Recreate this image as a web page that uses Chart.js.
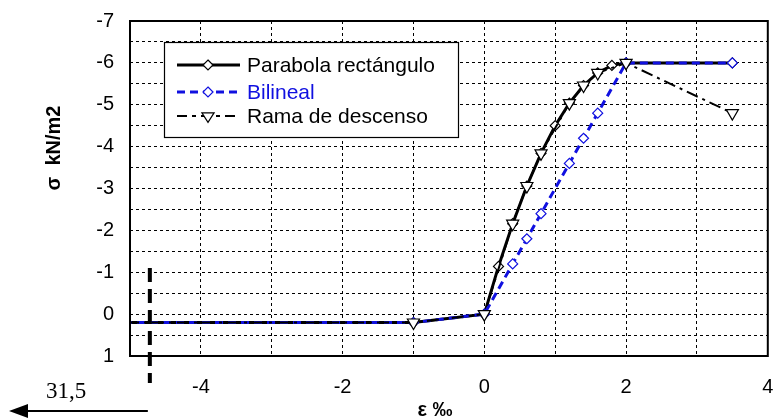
<!DOCTYPE html>
<html>
<head>
<meta charset="utf-8">
<script src="https://cdn.jsdelivr.net/npm/chart.js"></script>
<style>
  html, body { margin: 0; padding: 0; background: #fff; }
  #wrap { width: 776px; height: 420px; position: relative; }
</style>
</head>
<body>
<div id="wrap"><canvas id="chart"></canvas></div>
<script>
// Strain (‰) and stress values
const parabolaX = [-31.5, -1, 0, 0.2, 0.4, 0.6, 0.8, 1.0, 1.2, 1.4, 1.6, 1.8, 2.0, 3.5];
const parabolaY = [0.2, 0.2, 0, -1.14, -2.16, -3.06, -3.84, -4.5, -5.04, -5.46, -5.76, -5.94, -6, -6];

const bilinealX = [-31.5, -1, 0, 0.4, 0.6, 0.8, 1.2, 1.4, 1.6, 2.0, 3.5];
const bilinealY = [0.2, 0.2, 0, -1.2, -1.8, -2.4, -3.6, -4.2, -4.8, -6, -6];

const ramaX = [-31.5, -1, 0, 0.4, 0.6, 0.8, 1.2, 1.4, 1.6, 2.0, 3.5];
const ramaY = [0.2, 0.2, 0, -2.16, -3.06, -3.84, -5.04, -5.46, -5.76, -6, -4.8];

const seriesNames = ['Parabola rectángulo', 'Bilineal', 'Rama de descenso'];

// Axis ranges and labelled ticks
const xMin = -5, xMax = 4, xStep = 1;
const yMin = -7, yMax = 1, yStep = 0.5;
const xLabelled = [-4, -2, 0, 2, 4];

// annotation: break marker and off-chart value
const breakX = -4.72;
const breakTopY = -1.1;
const offChartLabel = '31,5';

const BLUE = '#1010e0';
const toPoints = (xs, ys) => xs.map((x, i) => ({ x: x, y: ys[i] }));

Chart.defaults.font.family = '"Liberation Sans", Arial, sans-serif';
Chart.defaults.color = '#000';

// legend box, frame and annotations drawn on top of the plot
const extrasPlugin = {
    id: 'extras',
    afterDatasetsDraw(chart) {
        const ctx = chart.ctx;
        const area = chart.chartArea;
        const xs = chart.scales.x;
        const ys = chart.scales.y;

        // plot frame
        ctx.save();
        ctx.strokeStyle = '#000';
        ctx.lineWidth = 2;
        ctx.strokeRect(area.left, area.top, area.right - area.left, area.bottom - area.top);
        ctx.restore();

        // legend
        ctx.save();
        const lx = 164, ly = 42, lw = 294, lh = 95;
        ctx.fillStyle = '#fff';
        ctx.fillRect(lx, ly, lw, lh);
        ctx.strokeStyle = '#000';
        ctx.lineWidth = 1.2;
        ctx.strokeRect(lx + 0.5, ly + 0.5, lw, lh);
        const rows = [65, 92, 116];
        const textColors = ['#000', BLUE, '#000'];
        chart.data.datasets.forEach((ds, i) => {
            const y = rows[i];
            ctx.save();
            ctx.strokeStyle = ds.borderColor;
            ctx.lineWidth = ds.borderWidth;
            ctx.setLineDash(ds.legendDash || ds.borderDash || []);
            ctx.beginPath();
            ctx.moveTo(lx + 13, y);
            ctx.lineTo(lx + 76, y);
            ctx.stroke();
            ctx.restore();
            drawMarker(ctx, ds, lx + 44, y);
            ctx.fillStyle = textColors[i];
            ctx.font = '21px "Liberation Sans", Arial, sans-serif';
            ctx.textBaseline = 'middle';
            ctx.textAlign = 'left';
            ctx.fillText(ds.label, lx + 83, y + 1);
        });
        ctx.restore();

        // axis titles
        ctx.save();
        ctx.fillStyle = '#000';
        ctx.font = 'bold 20px "Liberation Sans", Arial, sans-serif';
        ctx.textAlign = 'center';
        ctx.textBaseline = 'middle';
        ctx.fillText('ε ‰', 435, 410);
        ctx.translate(54, 148);
        ctx.rotate(-Math.PI / 2);
        ctx.fillText('σ  kN/m2', 0, 0);
        ctx.restore();

        // break marker: thick dashed vertical line
        const bx = xs.getPixelForValue(breakX);
        ctx.save();
        ctx.strokeStyle = '#000';
        ctx.lineWidth = 4;
        ctx.setLineDash([14, 7]);
        ctx.beginPath();
        ctx.moveTo(bx, ys.getPixelForValue(breakTopY));
        ctx.lineTo(bx, area.bottom + 27);
        ctx.stroke();
        ctx.restore();

        // arrow pointing to the off-chart value
        const ay = area.bottom + 55;
        ctx.save();
        ctx.strokeStyle = '#000';
        ctx.fillStyle = '#000';
        ctx.lineWidth = 2;
        ctx.beginPath();
        ctx.moveTo(bx - 2, ay);
        ctx.lineTo(24, ay);
        ctx.stroke();
        ctx.beginPath();
        ctx.moveTo(9, ay);
        ctx.lineTo(28, ay - 7);
        ctx.lineTo(28, ay + 7);
        ctx.closePath();
        ctx.fill();
        ctx.font = '23px "Liberation Serif", "Times New Roman", serif';
        ctx.textAlign = 'left';
        ctx.textBaseline = 'alphabetic';
        ctx.fillText(offChartLabel, 46, ay - 13);
        ctx.restore();
    }
};

function drawMarker(ctx, ds, x, y) {
    const r = ds.pointRadius;
    ctx.save();
    ctx.fillStyle = ds.pointBackgroundColor;
    ctx.strokeStyle = ds.pointBorderColor;
    ctx.lineWidth = ds.pointBorderWidth;
    ctx.beginPath();
    if (ds.pointStyle === 'rectRot') {
        ctx.moveTo(x, y - r);
        ctx.lineTo(x + r, y);
        ctx.lineTo(x, y + r);
        ctx.lineTo(x - r, y);
    } else {
        const h = r * 0.75;
        ctx.moveTo(x - r * 0.87, y - h * 0.6);
        ctx.lineTo(x + r * 0.87, y - h * 0.6);
        ctx.lineTo(x, y + h * 1.2);
    }
    ctx.closePath();
    ctx.fill();
    ctx.stroke();
    ctx.restore();
}

// keep the plot box exactly where the layout padding puts it
function fixX(scale) {
    scale.height = 64;
    scale.paddingLeft = 0;
    scale.paddingRight = 0;
}
function fixY(scale) {
    scale.width = 130;
    scale.paddingTop = 0;
    scale.paddingBottom = 0;
}

new Chart(document.getElementById('chart'), {
    type: 'scatter',
    data: {
        datasets: [
            {
                label: seriesNames[0],
                data: toPoints(parabolaX, parabolaY),
                showLine: true,
                borderColor: '#000',
                borderWidth: 3,
                pointStyle: 'rectRot',
                pointRadius: 5,
                pointBackgroundColor: '#fff',
                pointBorderColor: '#000',
                pointBorderWidth: 1.2,
                order: 2
            },
            {
                label: seriesNames[1],
                data: toPoints(bilinealX, bilinealY),
                showLine: true,
                borderColor: BLUE,
                borderWidth: 3,
                borderDash: [8, 5],
                pointStyle: 'rectRot',
                pointRadius: 5,
                pointBackgroundColor: '#fff',
                pointBorderColor: BLUE,
                pointBorderWidth: 1.2,
                order: 1
            },
            {
                label: seriesNames[2],
                data: toPoints(ramaX, ramaY),
                showLine: true,
                borderColor: '#000',
                borderWidth: 2,
                borderDash: [12, 5, 3, 5],
                legendDash: [10, 5, 4, 5],
                pointStyle: 'triangle',
                rotation: 180,
                pointRadius: 7,
                pointBackgroundColor: '#fff',
                pointBorderColor: '#000',
                pointBorderWidth: 1.2,
                order: 0
            }
        ]
    },
    options: {
        responsive: true,
        maintainAspectRatio: false,
        animation: false,
        devicePixelRatio: 1,
        layout: { padding: { top: 21, right: 5, left: 0, bottom: 0 } },
        plugins: {
            legend: { display: false },
            tooltip: { enabled: false }
        },
        scales: {
            x: {
                type: 'linear',
                min: xMin,
                max: xMax,
                afterFit: fixX,
                ticks: {
                    stepSize: xStep,
                    autoSkip: false,
                    maxRotation: 0,
                    padding: 19,
                    font: { size: 20 },
                    callback: (v) => xLabelled.includes(v) ? String(v) : ''
                },
                grid: { color: '#000', lineWidth: 1, drawTicks: false },
                border: { display: false, dash: [3, 3] }
            },
            y: {
                type: 'linear',
                min: yMin,
                max: yMax,
                reverse: true,
                afterFit: fixY,
                ticks: {
                    stepSize: yStep,
                    autoSkip: false,
                    padding: 16,
                    font: { size: 20 },
                    callback: (v) => Number.isInteger(v) ? String(v) : ''
                },
                grid: { color: '#000', lineWidth: 1, drawTicks: false },
                border: { display: false, dash: [3, 3] }
            }
        }
    },
    plugins: [extrasPlugin]
});
</script>
</body>
</html>
